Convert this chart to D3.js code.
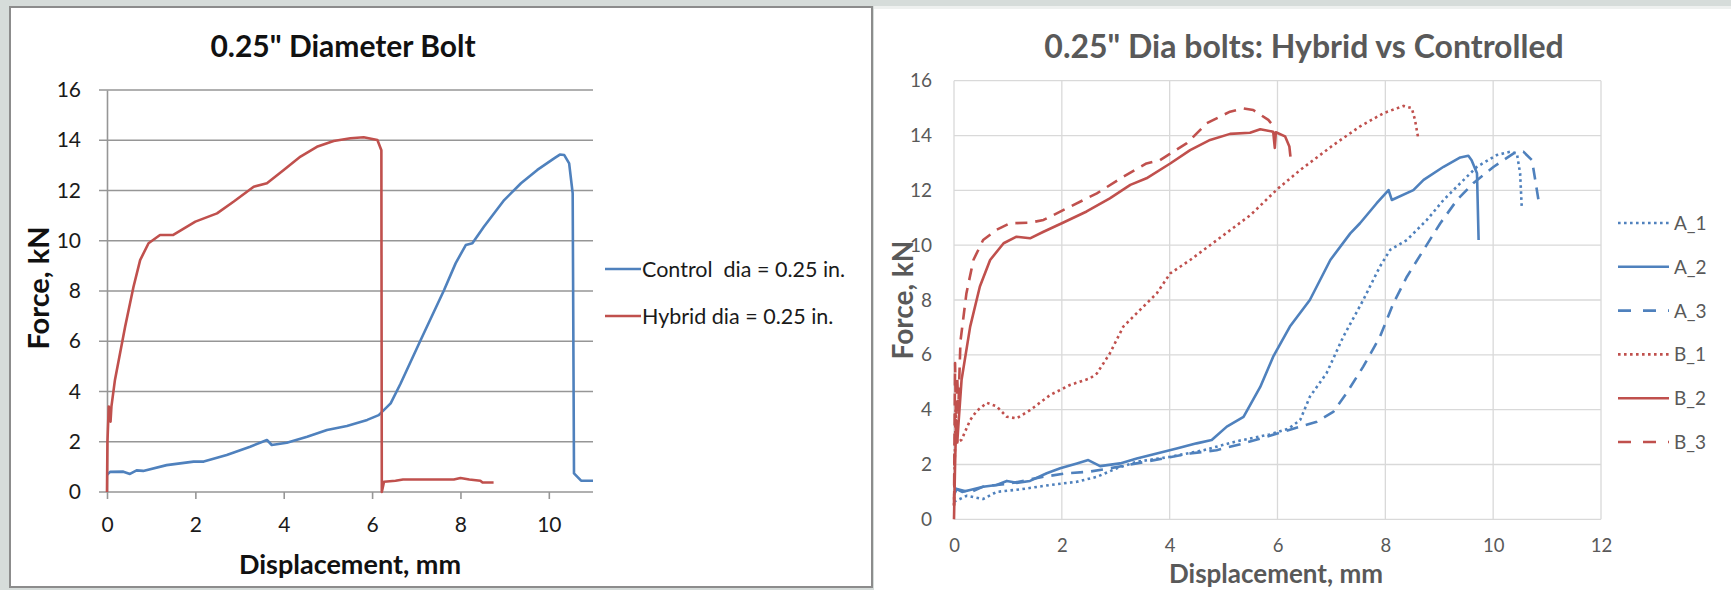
<!DOCTYPE html>
<html><head><meta charset="utf-8">
<script src="https://cdn.jsdelivr.net/npm/d3@7"></script>
<style>
html,body{margin:0;padding:0;background:#d6dcda;}
svg{display:block;font-family:Lato,"Open Sans",sans-serif;}
</style></head>
<body><svg id="c" width="1731" height="590"></svg>
<script>
// ---------- DATA ----------
// Left chart: 0.25" Diameter Bolt
const leftTitle = '0.25" Diameter Bolt';
const leftXTicks = [0, 2, 4, 6, 8, 10];
const leftYTicks = [0, 2, 4, 6, 8, 10, 12, 14, 16];
const leftNames = ["Control  dia = 0.25 in.", "Hybrid dia = 0.25 in."];
const controlPts = [[0,0.68],[0.07,0.8],[0.37,0.81],[0.52,0.72],[0.67,0.86],[0.82,0.84],[1.35,1.07],[1.96,1.21],[2.19,1.21],[2.71,1.47],[3.24,1.8],[3.62,2.07],[3.73,1.87],[4.07,1.96],[4.53,2.2],[4.98,2.47],[5.43,2.63],[5.89,2.87],[6.15,3.06],[6.42,3.53],[6.64,4.3],[7.1,6.05],[7.63,8.04],[7.89,9.1],[8.12,9.83],[8.27,9.9],[8.53,10.56],[8.99,11.62],[9.37,12.29],[9.74,12.82],[10.12,13.28],[10.25,13.43],[10.35,13.41],[10.46,13.08],[10.54,11.89],[10.57,0.74],[10.73,0.45],[11.0,0.45]];
const hybridPts = [[0,0],[0.01,2.0],[0.04,3.4],[0.08,2.8],[0.1,3.4],[0.18,4.46],[0.41,6.58],[0.6,8.17],[0.75,9.23],[0.94,9.9],[1.2,10.23],[1.5,10.23],[2.0,10.76],[2.49,11.09],[2.87,11.56],[3.32,12.15],[3.62,12.29],[4.0,12.82],[4.38,13.35],[4.75,13.74],[5.13,13.97],[5.51,14.08],[5.81,14.12],[6.12,14.01],[6.21,13.6],[6.22,0],[6.27,0.41],[6.53,0.45],[6.7,0.5],[7.85,0.5],[8.0,0.56],[8.2,0.5],[8.45,0.45],[8.5,0.38],[8.75,0.38]];
// Right chart: 0.25" Dia bolts: Hybrid vs Controlled
const rightTitle = '0.25" Dia bolts: Hybrid vs Controlled';
const rightXTicks = [0, 2, 4, 6, 8, 10, 12];
const rightYTicks = [0, 2, 4, 6, 8, 10, 12, 14, 16];
const rightNames = ["A_1", "A_2", "A_3", "B_1", "B_2", "B_3"];
const a1Pts = [[0,0.64],[0.24,0.86],[0.54,0.74],[0.79,1.0],[1.22,1.09],[1.78,1.25],[2.28,1.37],[2.65,1.55],[3.02,1.86],[3.39,2.1],[4.01,2.28],[4.63,2.52],[5.25,2.85],[5.86,3.1],[6.2,3.3],[6.42,3.62],[6.6,4.47],[6.91,5.33],[7.22,6.66],[7.59,8.0],[7.9,9.22],[8.09,9.83],[8.4,10.19],[8.77,10.92],[9.08,11.65],[9.39,12.26],[9.7,12.86],[10.07,13.29],[10.32,13.41],[10.44,13.35],[10.5,12.62],[10.53,11.4]];
const a2Pts = [[0,0.9],[0.05,1.1],[0.15,1.0],[0.3,1.07],[0.54,1.19],[0.79,1.25],[0.98,1.4],[1.16,1.33],[1.41,1.4],[1.72,1.68],[1.97,1.86],[2.28,2.04],[2.49,2.16],[2.71,1.94],[3.08,2.04],[3.39,2.22],[3.76,2.4],[4.13,2.58],[4.5,2.77],[4.78,2.89],[5.06,3.38],[5.37,3.74],[5.68,4.83],[5.92,5.93],[6.23,7.03],[6.6,8.0],[6.98,9.46],[7.35,10.43],[7.53,10.8],[7.84,11.53],[8.06,12.01],[8.12,11.65],[8.52,12.01],[8.71,12.38],[9.08,12.86],[9.39,13.2],[9.54,13.26],[9.6,13.1],[9.7,12.62],[9.73,10.19]];
const a3Pts = [[0,1.13],[0.3,0.98],[0.54,1.19],[1.04,1.31],[1.66,1.55],[2.09,1.68],[2.52,1.74],[2.89,1.86],[3.39,2.04],[3.88,2.22],[4.38,2.4],[4.87,2.52],[5.37,2.77],[5.86,3.05],[6.42,3.38],[6.73,3.56],[7.04,3.93],[7.28,4.6],[7.59,5.57],[7.9,6.66],[8.15,7.88],[8.4,8.85],[8.71,9.83],[9.02,10.8],[9.33,11.65],[9.63,12.26],[10.01,12.86],[10.38,13.35],[10.56,13.41],[10.72,13.1],[10.78,12.38],[10.84,11.65]];
const b1Pts = [[0,0.5],[0.03,4.0],[0.06,2.8],[0.14,2.9],[0.3,3.62],[0.42,3.95],[0.61,4.25],[0.79,4.12],[0.98,3.74],[1.16,3.68],[1.41,3.98],[1.78,4.53],[2.15,4.9],[2.52,5.14],[2.65,5.32],[2.89,6.05],[3.14,7.03],[3.39,7.52],[3.76,8.24],[4.01,8.97],[4.38,9.46],[4.75,10.0],[5.5,11.1],[6.0,12.05],[6.42,12.74],[7.04,13.66],[7.53,14.33],[7.97,14.82],[8.34,15.08],[8.49,15.0],[8.55,14.57],[8.61,13.9]];
const b2Pts = [[0,0],[0.02,2.0],[0.04,3.6],[0.06,2.8],[0.08,3.4],[0.14,5.08],[0.3,7.03],[0.48,8.49],[0.67,9.46],[0.92,10.07],[1.16,10.31],[1.41,10.25],[1.66,10.49],[2.0,10.8],[2.46,11.23],[2.89,11.71],[3.27,12.2],[3.57,12.44],[4.01,12.98],[4.38,13.47],[4.75,13.84],[5.12,14.06],[5.49,14.1],[5.68,14.23],[5.92,14.14],[5.95,13.55],[5.97,14.12],[6.14,13.97],[6.22,13.6],[6.24,13.23]];
const b3Pts = [[0,0.5],[0.02,5.7],[0.04,3.0],[0.06,5.2],[0.08,4.0],[0.12,6.5],[0.23,8.24],[0.36,9.46],[0.54,10.19],[0.79,10.56],[1.04,10.8],[1.41,10.82],[1.66,10.92],[2.15,11.4],[2.65,11.89],[3.14,12.5],[3.57,12.98],[3.82,13.1],[4.32,13.72],[4.69,14.45],[5.12,14.87],[5.37,14.99],[5.55,14.93],[5.83,14.57],[5.88,14.45]];

// ---------- STYLE ----------
const BLUE = "#4f81bd", RED = "#c0504d";
const svg = d3.select("#c");

// background + panels
svg.append("rect").attr("x",0).attr("y",0).attr("width",1731).attr("height",590).attr("fill","#d6dcda");
svg.append("rect").attr("x",874).attr("y",6).attr("width",857).attr("height",584).attr("fill","#ffffff");
svg.append("rect").attr("x",874).attr("y",6).attr("width",857).attr("height",3).attr("fill","#eef0ef");
svg.append("rect").attr("x",10).attr("y",7).attr("width",862).attr("height",580).attr("fill","#ffffff").attr("stroke","#8c8c8c").attr("stroke-width",2);

// ---------- LEFT CHART ----------
const lx = d3.scaleLinear().domain([0,11]).range([107,593]);
const ly = d3.scaleLinear().domain([0,16]).range([492,90]);
const L = svg.append("g");
L.selectAll("line.lg").data(leftYTicks).join("line")
  .attr("x1",99).attr("x2",lx(11)).attr("y1",d=>ly(d)).attr("y2",d=>ly(d))
  .attr("stroke","#969696").attr("stroke-width",1.6);
const lxAxis = L.append("g").attr("transform",`translate(0,${ly(0)})`)
  .call(d3.axisBottom(lx).tickValues(leftXTicks).tickSize(7).tickFormat(d3.format("d")));
lxAxis.select(".domain").remove();
lxAxis.selectAll("line").attr("stroke","#969696").attr("stroke-width",1.6);
lxAxis.selectAll("text").attr("font-size",21).attr("fill","#1a1a1a").attr("dy",0).attr("y",40).attr("font-family","Lato");
const lyAxis = L.append("g").attr("transform",`translate(${lx(0)},0)`)
  .call(d3.axisLeft(ly).tickValues(leftYTicks).tickSize(0).tickPadding(26));
lyAxis.select(".domain").attr("stroke","#969696").attr("stroke-width",1.6);
lyAxis.selectAll("text").attr("font-size",21).attr("fill","#1a1a1a").attr("font-family","Lato");

const lineL = d3.line().x(d=>lx(d[0])).y(d=>ly(d[1]));
L.append("path").attr("d",lineL(controlPts)).attr("fill","none").attr("stroke",BLUE).attr("stroke-width",2.6).attr("stroke-linejoin","round");
L.append("path").attr("d",lineL(hybridPts)).attr("fill","none").attr("stroke",RED).attr("stroke-width",2.6).attr("stroke-linejoin","round");

L.append("text").attr("x",343).attr("y",57).attr("text-anchor","middle").attr("font-size",30).attr("font-weight","bold").attr("fill","#111").text(leftTitle);
L.append("text").attr("x",350).attr("y",574).attr("text-anchor","middle").attr("font-size",27).attr("font-weight","bold").attr("fill","#111").text("Displacement, mm");
L.append("text").attr("transform","translate(49,288) rotate(-90)").attr("text-anchor","middle").attr("font-size",29).attr("font-weight","bold").attr("fill","#111").text("Force, kN");

const leftColors = [BLUE, RED];
const lLeg = L.selectAll("g.lleg").data(leftNames).join("g").attr("transform",(d,i)=>`translate(605,${269+i*47})`);
lLeg.append("line").attr("x1",0).attr("x2",36).attr("stroke",(d,i)=>leftColors[i]).attr("stroke-width",2.6);
lLeg.append("text").attr("x",37).attr("y",8).attr("font-size",21.5).attr("fill","#1a1a1a").style("white-space","pre").text(d=>d);

// ---------- RIGHT CHART ----------
const rx = d3.scaleLinear().domain([0,12]).range([954,1601]);
const ry = d3.scaleLinear().domain([0,16]).range([519.3,80.7]);
const R = svg.append("g");
R.selectAll("line.hg").data(rightYTicks).join("line")
  .attr("x1",rx(0)).attr("x2",rx(12)).attr("y1",d=>ry(d)).attr("y2",d=>ry(d))
  .attr("stroke","#d9d9d9").attr("stroke-width",1.3);
R.selectAll("line.vg").data(rightXTicks).join("line")
  .attr("y1",ry(0)).attr("y2",ry(16)).attr("x1",d=>rx(d)).attr("x2",d=>rx(d))
  .attr("stroke","#d9d9d9").attr("stroke-width",1.3);
const rxAxis = R.append("g").attr("transform",`translate(0,${ry(0)})`)
  .call(d3.axisBottom(rx).tickValues(rightXTicks).tickSize(0).tickPadding(0));
rxAxis.select(".domain").remove();
rxAxis.selectAll("text").attr("font-size",18.5).attr("fill","#595959").attr("dy",0).attr("y",33).attr("font-family","Lato");
const ryAxis = R.append("g").attr("transform",`translate(${rx(0)},0)`)
  .call(d3.axisLeft(ry).tickValues(rightYTicks).tickSize(0).tickPadding(22));
ryAxis.select(".domain").remove();
ryAxis.selectAll("text").attr("font-size",19).attr("fill","#595959").attr("font-family","Lato");

const lineR = d3.line().x(d=>rx(d[0])).y(d=>ry(d[1]));
const rightData = [a1Pts, a2Pts, a3Pts, b1Pts, b2Pts, b3Pts];
const rightColors = [BLUE, BLUE, BLUE, RED, RED, RED];
const rightDash = ["2.6,3.4", null, "12,8", "2.6,3.4", null, "12,8"];
R.selectAll("path.rs").data(rightData).join("path")
  .attr("d",d=>lineR(d)).attr("fill","none")
  .attr("stroke",(d,i)=>rightColors[i]).attr("stroke-width",2.6)
  .attr("stroke-dasharray",(d,i)=>rightDash[i]).attr("stroke-linejoin","round");

R.append("text").attr("x",1304).attr("y",58).attr("text-anchor","middle").attr("font-size",32).attr("font-weight","bold").attr("fill","#595959").text(rightTitle);
R.append("text").attr("x",1276).attr("y",583).attr("text-anchor","middle").attr("font-size",26).attr("font-weight","bold").attr("fill","#595959").text("Displacement, mm");
R.append("text").attr("transform","translate(913,300) rotate(-90)").attr("text-anchor","middle").attr("font-size",28).attr("font-weight","bold").attr("fill","#595959").text("Force, kN");

const rLeg = R.selectAll("g.rleg").data(rightNames).join("g").attr("transform",(d,i)=>`translate(1618,${223+i*43.8})`);
rLeg.append("line").attr("x1",0).attr("x2",51).attr("stroke",(d,i)=>rightColors[i]).attr("stroke-width",2.6)
  .attr("stroke-dasharray",(d,i)=>rightDash[i]===null?null:(i%3===0?"2.6,3.4":"13,12"));
rLeg.append("text").attr("x",56).attr("y",7).attr("font-size",19).attr("fill","#595959").text(d=>d);
</script>
</body></html>
